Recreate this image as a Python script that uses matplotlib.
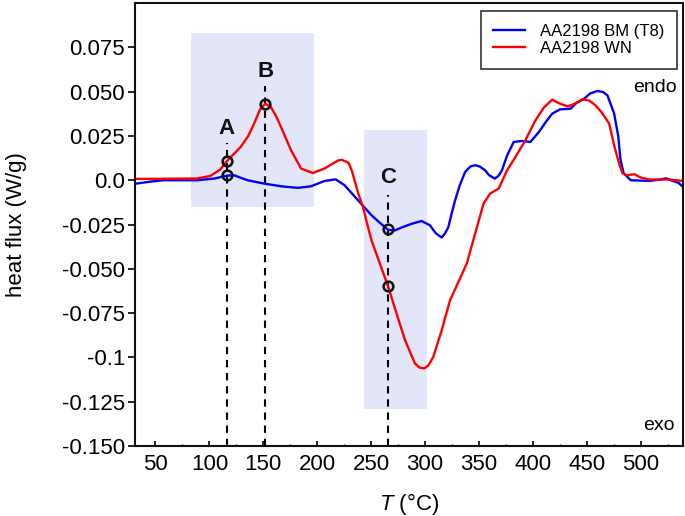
import numpy as np
import matplotlib
matplotlib.use('Agg')
import matplotlib.pyplot as plt
from matplotlib.ticker import FixedLocator, FixedFormatter, MultipleLocator

plt.rcParams['font.family'] = ['Liberation Sans', 'DejaVu Sans']
plt.rcParams['mathtext.fontset'] = 'custom'
plt.rcParams['mathtext.it'] = 'Liberation Sans:italic'
plt.rcParams['mathtext.rm'] = 'Liberation Sans'

# =============================================================================
# Data
# =============================================================================
T_bm = [31, 45, 57.8, 88.8, 105, 116, 122.9, 135.4, 150.9, 166.4, 182, 194.3,
        206.7, 217, 225.3, 237.8, 250.2, 258, 265.7, 272, 278, 288, 296.7,
        304.4, 310, 315.4, 318.5, 321.6, 324.5, 327.8, 332, 337.1, 342, 346.4,
        350.5, 355.7, 359, 364.5, 368, 371.2, 376, 382.1, 390, 397.5, 405.4,
        412, 417.8, 425, 434.8, 440, 447.3, 453, 459.7, 465, 469, 472, 475.2,
        479, 481, 484, 490.7, 507.8, 518, 523.3, 529.5, 535, 539]
q_bm = [-0.002, -0.0008, 0.0, 0.0, 0.001, 0.0026, 0.0028, 0.0, -0.0019,
        -0.0034, -0.0043, -0.0034, -0.0004, 0.0005, -0.0028, -0.0113, -0.0197,
        -0.024, -0.028, -0.0283, -0.0267, -0.0245, -0.023, -0.0254, -0.030,
        -0.0323, -0.030, -0.0263, -0.019, -0.0113, -0.003, 0.0047, 0.0078,
        0.0085, 0.0078, 0.0056, 0.003, 0.0009, 0.0025, 0.0056, 0.014, 0.0216,
        0.0222, 0.0216, 0.0272, 0.033, 0.0376, 0.040, 0.0404, 0.0435, 0.046,
        0.049, 0.0504, 0.0498, 0.0479, 0.043, 0.0376, 0.025, 0.012, 0.004,
        0.0, -0.0004, 0.0004, 0.0011, -0.0004, -0.0015, -0.0038]

T_wn = [31, 50, 88.8, 101, 110, 116, 129, 136, 141.5, 147, 151.8, 157, 162,
        166.4, 175.7, 185, 196, 206.7, 216, 219.5, 223, 229, 232, 234.6, 238,
        242.4, 246, 250.2, 258, 265.7, 273.5, 281.2, 290.5, 295, 299.2, 303,
        307.6, 315.4, 323.1, 330.9, 338.6, 346.4, 354.2, 360.3, 368.2, 375.9,
        383.7, 393, 402.2, 410, 417.8, 424, 431.8, 438, 445.7, 452, 458, 464,
        470.6, 475.5, 480, 483, 487, 493.9, 500, 507.8, 526.4, 539]
q_wn = [0.0008, 0.0008, 0.001, 0.0025, 0.006, 0.0107, 0.0188, 0.025, 0.032,
        0.040, 0.0433, 0.0413, 0.036, 0.030, 0.0169, 0.0066, 0.0041, 0.0066,
        0.010, 0.0112, 0.0115, 0.0098, 0.0055, 0.0, -0.0075, -0.015, -0.024,
        -0.0338, -0.047, -0.060, -0.0752, -0.090, -0.1034, -0.1058, -0.1062,
        -0.1045, -0.0997, -0.0846, -0.0677, -0.0574, -0.047, -0.030, -0.0131,
        -0.0075, -0.0047, 0.0056, 0.0131, 0.0226, 0.0338, 0.041, 0.0455,
        0.0435, 0.0417, 0.043, 0.0457, 0.045, 0.0423, 0.038, 0.032, 0.019,
        0.009, 0.004, 0.0028, 0.0034, 0.0015, 0.0004, 0.0004, -0.0004]

# marked points A, B, C
peak_labels = ['A', 'B', 'C']
peak_T = [116, 151.8, 265.7]
peak_line_top = [0.021, 0.053, -0.0085]
peak_label_y = [0.029, 0.0615, 0.0017]
marker_T = [116, 116, 151.8, 265.7, 265.7]
marker_q = [0.0107, 0.0028, 0.0433, -0.0278, -0.0598]

# shaded regions (x0, x1, y0, y1)
regions = [(83, 197, -0.0152, 0.083), (243, 301.4, -0.129, 0.0282)]

yticks = [0.075, 0.050, 0.025, 0.0, -0.025, -0.050, -0.075, -0.1, -0.125, -0.150]
ytick_labels = ['0.075', '0.050', '0.025', '0.0', '-0.025', '-0.050',
                '-0.075', '-0.1', '-0.125', '-0.150']

# =============================================================================
# Plot
# =============================================================================
fig = plt.figure(figsize=(6.85, 5.16), dpi=100)
ax = fig.add_axes([0.197, 0.1357, 0.8, 0.8583])

for x0, x1, y0, y1 in regions:
    ax.fill_between([x0, x1], y0, y1, color='#e3e6f8', lw=0, zorder=0)

for lab, t, top, ly in zip(peak_labels, peak_T, peak_line_top, peak_label_y):
    ax.plot([t, t], [-0.150, top], color='black', lw=1.5, ls=(0, (3.5, 2.8)),
            zorder=1)
    ax.text(t, ly, lab, ha='center', va='center', fontsize=16,
            fontweight='bold', color='#111111')

ax.plot(T_bm, q_bm, color='#0000ff', lw=1.7, label='AA2198 BM (T8)', zorder=2)
ax.plot(T_wn, q_wn, color='#ff0000', lw=1.7, label='AA2198 WN', zorder=2)
ax.plot(marker_T, marker_q, ls='none', marker='o', ms=7, mfc='none',
        mec='#111111', mew=1.8, zorder=3)

ax.set_xlim(31, 539)
ax.set_ylim(-0.150, 0.100)

ax.xaxis.set_major_locator(MultipleLocator(50))
ax.xaxis.set_minor_locator(MultipleLocator(25))
ax.yaxis.set_major_locator(FixedLocator(yticks))
ax.yaxis.set_major_formatter(FixedFormatter(ytick_labels))

ax.tick_params(axis='x', which='major', direction='in', length=3.5, width=1.2,
               labelsize=16, pad=6)
ax.tick_params(axis='x', which='minor', direction='in', length=1.8, width=1.0)
ax.tick_params(axis='y', which='major', direction='out', length=5, width=1.2,
               labelsize=16, pad=2)
for s in ax.spines.values():
    s.set_linewidth(1.5)
    s.set_color('#111111')

ax.set_xlabel(r'$\mathit{T}$ (°C)', fontsize=16, labelpad=11)
ax.set_ylabel('heat flux (W/g)', fontsize=16, labelpad=25)

ax.text(0.989, 0.810, 'endo', transform=ax.transAxes, ha='right',
        va='center', fontsize=14)
ax.text(0.985, 0.047, 'exo', transform=ax.transAxes, ha='right',
        va='center', fontsize=14)

leg = ax.legend(loc='upper right', bbox_to_anchor=(0.989, 0.982),
                borderaxespad=0, fontsize=12, fancybox=False, framealpha=1,
                edgecolor='#333333', handlelength=1.9, handletextpad=0.9,
                labelspacing=0.15, borderpad=0.75)
leg.get_frame().set_linewidth(1.2)

fig.savefig('out.png', dpi=100)
